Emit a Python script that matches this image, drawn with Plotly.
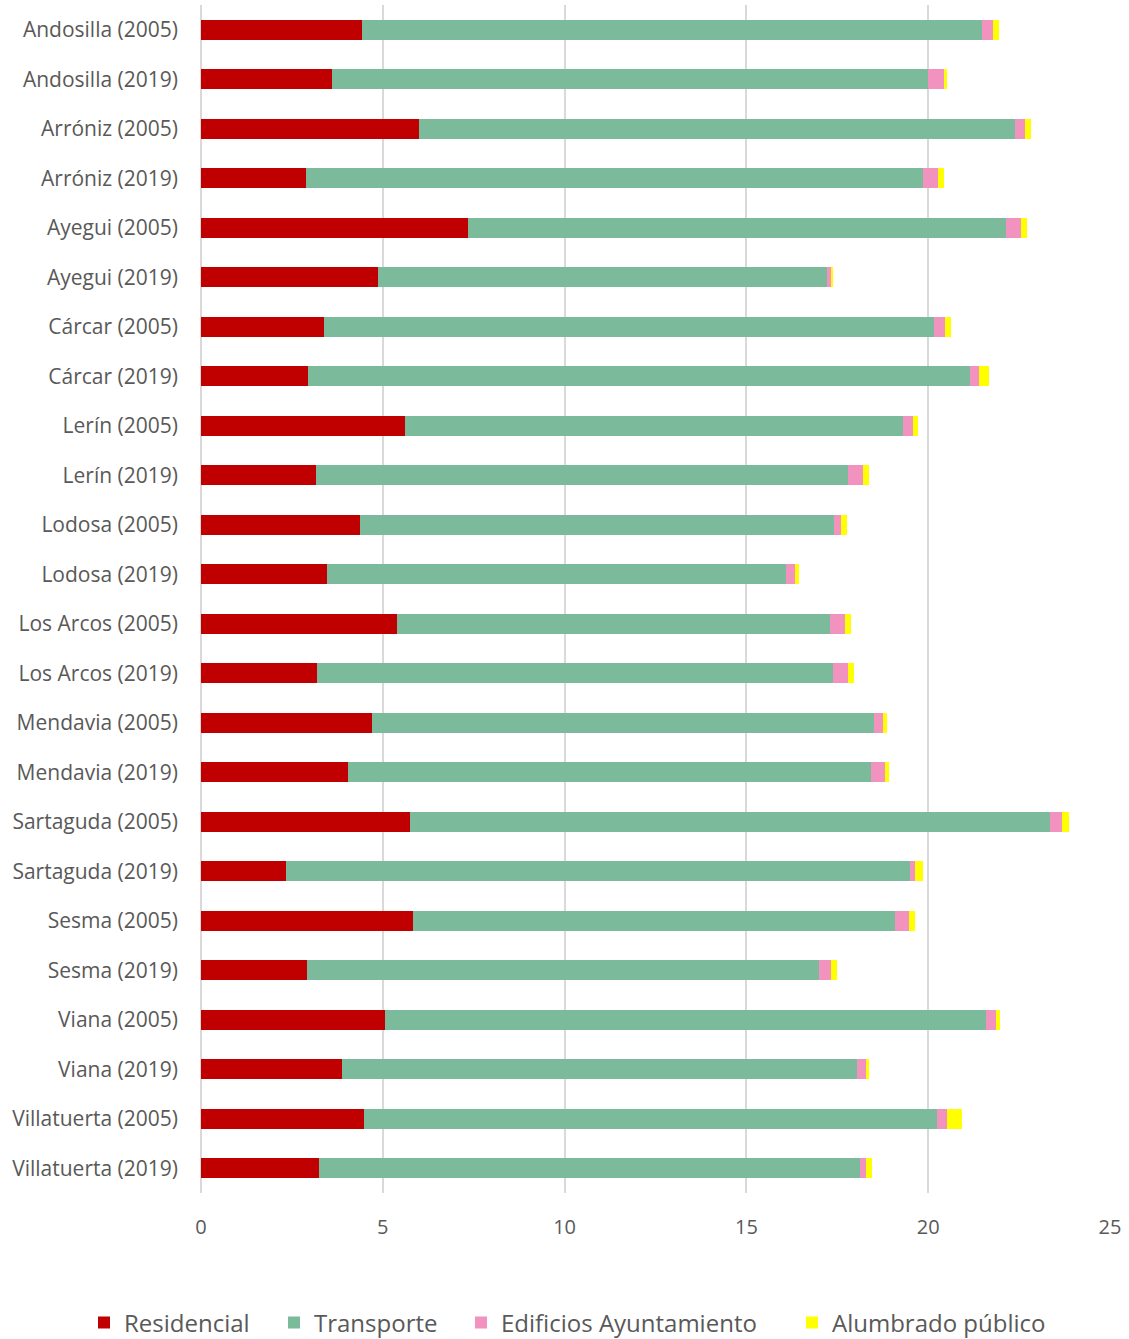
import plotly.graph_objects as go

categorias = [
    "Andosilla (2005)", "Andosilla (2019)", "Arróniz (2005)", "Arróniz (2019)",
    "Ayegui (2005)", "Ayegui (2019)", "Cárcar (2005)", "Cárcar (2019)",
    "Lerín (2005)", "Lerín (2019)", "Lodosa (2005)", "Lodosa (2019)",
    "Los Arcos (2005)", "Los Arcos (2019)", "Mendavia (2005)", "Mendavia (2019)",
    "Sartaguda (2005)", "Sartaguda (2019)", "Sesma (2005)", "Sesma (2019)",
    "Viana (2005)", "Viana (2019)", "Villatuerta (2005)", "Villatuerta (2019)",
]

residencial = [4.44, 3.60, 5.99, 2.89, 7.33, 4.87, 3.37, 2.94, 5.62, 3.16, 4.36, 3.47,
               5.39, 3.19, 4.70, 4.05, 5.76, 2.34, 5.83, 2.92, 5.06, 3.89, 4.48, 3.25]
transporte = [17.05, 16.40, 16.41, 16.97, 14.80, 12.36, 16.80, 18.20, 13.69, 14.64, 13.05, 12.62,
              11.92, 14.20, 13.81, 14.39, 17.58, 17.15, 13.27, 14.09, 16.54, 14.16, 15.77, 14.88]
edificios = [0.28, 0.44, 0.27, 0.41, 0.43, 0.10, 0.28, 0.27, 0.28, 0.41, 0.19, 0.25,
             0.40, 0.41, 0.26, 0.38, 0.35, 0.16, 0.38, 0.32, 0.26, 0.23, 0.28, 0.17]
alumbrado = [0.19, 0.07, 0.17, 0.16, 0.17, 0.05, 0.19, 0.26, 0.14, 0.17, 0.17, 0.10,
             0.17, 0.16, 0.11, 0.11, 0.17, 0.22, 0.17, 0.16, 0.12, 0.10, 0.40, 0.16]

series = [
    ("Residencial", residencial, "#C00000"),
    ("Transporte", transporte, "#7BBB9B"),
    ("Edificios Ayuntamiento", edificios, "#F193BE"),
    ("Alumbrado público", alumbrado, "#FFFF00"),
]

# one legend per series so each entry sits where the original puts it
legend_x = [84, 274, 461, 792]

fig = go.Figure()
for i, (nombre, valores, color) in enumerate(series):
    fig.add_trace(go.Bar(
        y=categorias, x=valores, name=nombre, orientation="h",
        marker=dict(color=color, line=dict(width=0)),
        legend="legend" if i == 0 else f"legend{i + 1}",
    ))

legend_style = dict(
    orientation="h", xref="container", yref="container",
    xanchor="left", y=16 / 1339, yanchor="middle",
    font=dict(size=24, color="#595959"), bgcolor="rgba(0,0,0,0)",
)
legends = {}
for i, lx in enumerate(legend_x):
    key = "legend" if i == 0 else f"legend{i + 1}"
    legends[key] = dict(legend_style, x=lx / 1129)

fig.update_layout(
    barmode="stack",
    bargap=0.6,
    width=1129, height=1339,
    margin=dict(l=201, r=19, t=5, b=146),
    plot_bgcolor="white", paper_bgcolor="white",
    font=dict(family="Open Sans", color="#595959"),
    showlegend=True,
    **legends,
)
fig.update_xaxes(
    range=[0, 25], dtick=5, showgrid=True, gridcolor="#D9D9D9", gridwidth=2,
    zeroline=True, zerolinecolor="#D9D9D9", zerolinewidth=2,
    tickfont=dict(size=20), ticklabelstandoff=20, showline=False,
)
fig.update_yaxes(
    autorange="reversed", tickfont=dict(size=21), ticklabelstandoff=22,
    showgrid=False, showline=False,
)

fig.write_html("out.html", config={"displayModeBar": False},
               post_script="document.body.style.margin='0';")
